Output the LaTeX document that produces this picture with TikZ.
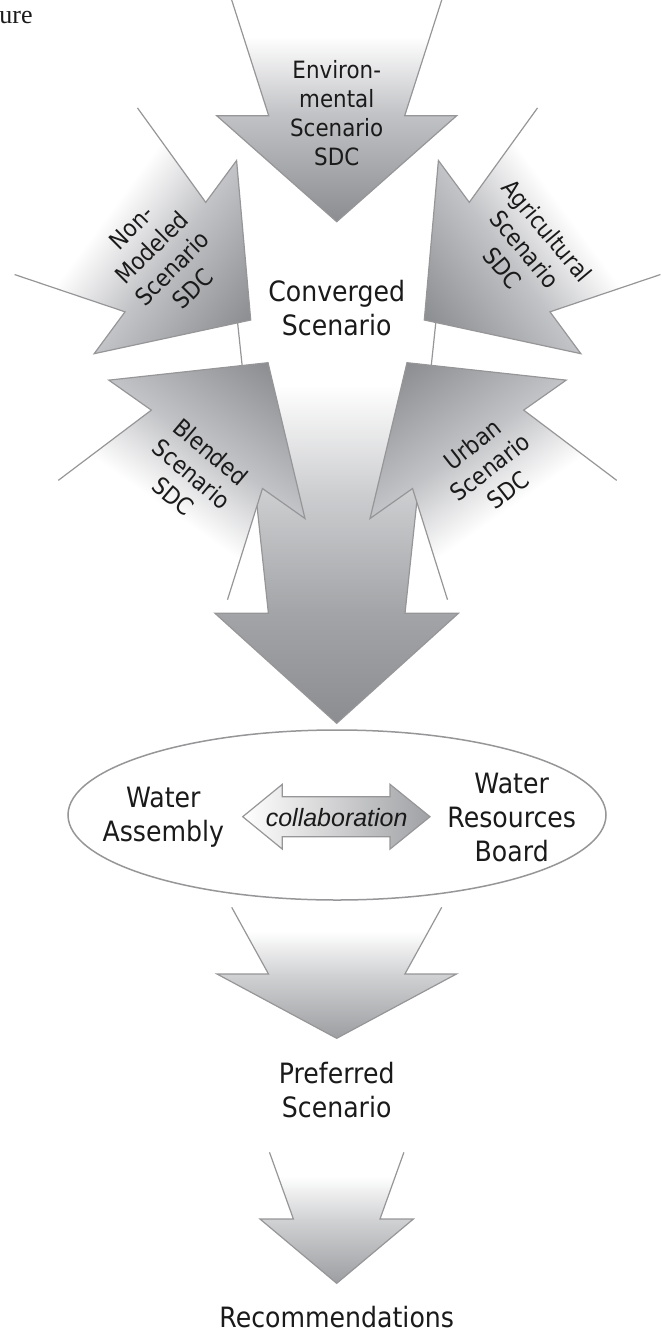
\documentclass[tikz,border=0pt]{standalone}
\usepackage{fontspec}
\usepackage{xcolor}
\usepackage{tikz}
\usetikzlibrary{shapes.geometric}
\newfontfamily\sdcfont{DejaVu Sans}[FakeStretch=0.9]
\newfontfamily\collabfont{Liberation Sans}
\newfontfamily\capfont{Liberation Serif}
\definecolor{tipgray}{RGB}{140,141,145}
\definecolor{headgray}{RGB}{194,195,198}
\definecolor{convhead}{RGB}{163,164,167}
\definecolor{convmid}{RGB}{204,205,207}
\definecolor{lowtip}{RGB}{157,158,161}
\definecolor{lowhead}{RGB}{208,209,211}
\definecolor{collgray}{RGB}{160,161,164}
\definecolor{linegray}{RGB}{150,150,152}
\definecolor{textgray}{RGB}{26,26,26}
\pgfdeclareverticalshading{sdcfade}{100bp}{color(0bp)=(tipgray); color(25bp)=(tipgray);
  color(49bp)=(headgray); color(66bp)=(white); color(100bp)=(white)}
\pgfdeclareverticalshading{convfade}{100bp}{color(0bp)=(tipgray); color(25bp)=(tipgray);
  color(38bp)=(convhead); color(52bp)=(convmid); color(65bp)=(white); color(100bp)=(white)}
\pgfdeclareverticalshading{lowfade}{100bp}{color(0bp)=(lowtip); color(25bp)=(lowtip);
  color(49bp)=(lowhead); color(66bp)=(white); color(100bp)=(white)}
\tikzset{
  sdcline/.style={draw=linegray, line width=0.6pt, line join=miter},
  sdclabel/.style={font=\sdcfont\fontsize{11.9}{14.5}\selectfont, align=center, text=textgray, inner sep=0pt},
  mainlabel/.style={font=\sdcfont\fontsize{14}{17}\selectfont, align=center, text=textgray, inner sep=0pt},
}
% incoming SDC arrow: tip x, tip y, turn, tail length
\newcommand{\sdcarrow}[4]{%
  \begin{scope}[transform canvas={shift={(#1,#2)}, rotate=#3}]
    \shade[shading=sdcfade] (0,0) -- (120,-106) -- (68,-106) -- ({68+0.32*(#4-106)},-#4)
      -- ({-68-0.32*(#4-106)},-#4) -- (-68,-106) -- (-120,-106) -- cycle;
    \draw[sdcline] ({68+0.32*(#4-106)},-#4) -- (68,-106) -- (120,-106) -- (0,0)
      -- (-120,-106) -- (-68,-106) -- ({-68-0.32*(#4-106)},-#4);
  \end{scope}}

\begin{document}
\begin{tikzpicture}[x=0.5pt, y=-0.5pt]
  \useasboundingbox (0,0) rectangle (661,1332);
  \node[font=\capfont\fontsize{13}{15}\selectfont, anchor=base west, inner sep=0pt, text=textgray] (figtag) at (-1,23.3) {ure};
  % converged arrow
  \shade[shading=convfade] (336.7,723.3) -- (458.4,613.3) -- (405,613.3) -- (438.2,300)
    -- (235.2,300) -- (268.4,613.3) -- (215,613.3) -- cycle;
  \draw[sdcline] (438.2,300) -- (405,613.3) -- (458.4,613.3) -- (336.7,723.3)
    -- (215,613.3) -- (268.4,613.3) -- (235.2,300);
  % SDC arrows
  \sdcarrow{268}{362.7}{144.8}{217}
  \sdcarrow{407}{362.7}{-144.8}{217}
  \sdcarrow{250.7}{320}{53.6}{217}
  \sdcarrow{424.3}{320}{-53.6}{217}
  \sdcarrow{336.7}{221.7}{0}{226}
  \node[sdclabel] (envtext) at (336.7,113.3) {Environ-\\mental\\Scenario\\SDC};
  \node[sdclabel, rotate=45] (nonmodtext) at (162,258) {Non-\\Modeled\\Scenario\\SDC};
  \node[sdclabel, rotate=-50] (agritext) at (525,249) {Agricultural\\Scenario\\SDC};
  \node[sdclabel, rotate=-40] (blendtext) at (192,474) {Blended\\Scenario\\SDC};
  \node[sdclabel, rotate=38] (urbantext) at (490,467) {Urban\\Scenario\\SDC};
  \node[mainlabel] (convtext) at (336.7,308.3) {Converged\\Scenario};
  % water assembly and board
  \node[draw=linegray, line width=0.75pt, ellipse, minimum width=269pt, minimum height=85pt, inner sep=0pt] (forum) at (337,815) {};
  \node[mainlabel] (assembly) at (163.3,816.7) {Water\\Assembly};
  \node[mainlabel] (board) at (511.7,817.5) {Water\\Resources\\Board};
  \shadedraw[left color=white, right color=collgray, sdcline] (242.7,816.7) -- (282.3,784.3) -- (282.3,796.7)
    -- (390,796.7) -- (390,784.3) -- (430,816.7) -- (390,849.1) -- (390,836.7)
    -- (282.3,836.7) -- (282.3,849.1) -- cycle;
  \node[font=\collabfont\itshape\fontsize{12.5}{15}\selectfont, text=textgray, inner sep=0pt] (collab) at (336.7,817.3) {collaboration};
  % preferred scenario
  \shade[shading=lowfade] (336.7,1038.3) -- (456.4,974) -- (404.9,974) -- (441.7,907.3)
    -- (231.7,907.3) -- (268.5,974) -- (217,974) -- cycle;
  \draw[sdcline] (441.7,907.3) -- (404.9,974) -- (456.4,974) -- (336.7,1038.3)
    -- (217,974) -- (268.5,974) -- (231.7,907.3);
  \node[mainlabel] (preftext) at (336.7,1089.6) {Preferred\\Scenario};
  % recommendations
  \shade[shading=lowfade] (336.7,1283.3) -- (413.4,1219) -- (380,1219) -- (403.9,1152.3)
    -- (269.5,1152.3) -- (293.4,1219) -- (260,1219) -- cycle;
  \draw[sdcline] (403.9,1152.3) -- (380,1219) -- (413.4,1219) -- (336.7,1283.3)
    -- (260,1219) -- (293.4,1219) -- (269.5,1152.3);
  \node[mainlabel] (rectext) at (336.7,1316.7) {Recommendations};
\end{tikzpicture}
\end{document}
